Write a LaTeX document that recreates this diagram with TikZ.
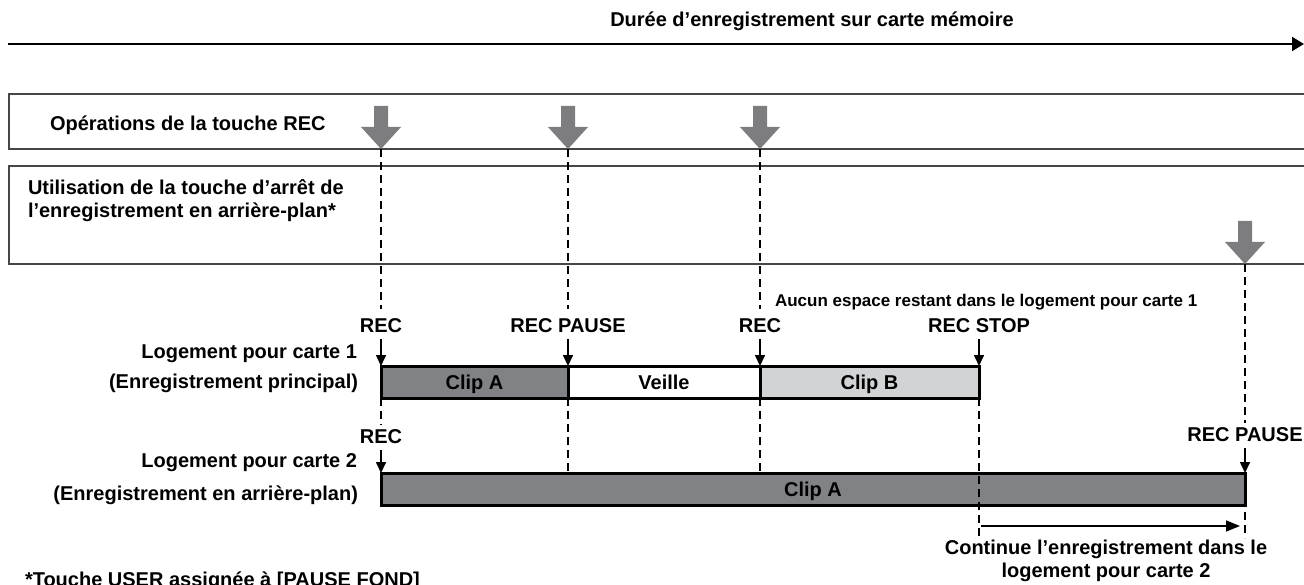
\documentclass[tikz,border=0pt]{standalone}
\usepackage{fontspec}
\setmainfont{Liberation Sans}
\usetikzlibrary{arrows.meta}
\definecolor{clipdark}{RGB}{128,130,133}
\definecolor{cliplight}{RGB}{209,211,212}
\definecolor{arrowgray}{RGB}{125,125,128}
\definecolor{framegray}{RGB}{70,70,70}
\begin{document}
\begin{tikzpicture}[x=1pt,y=-1pt,
  lbl/.style={font=\bfseries\fontsize{20}{23}\selectfont, inner sep=2pt, outer sep=0pt},
  smalllbl/.style={font=\bfseries\fontsize{17}{19}\selectfont, inner sep=0pt, outer sep=0pt},
  frame/.style={draw=framegray, line width=1.8pt},
  clipbox/.style={draw=black, line width=3pt, minimum height=32pt, inner sep=0pt, outer sep=0pt, text height=14.3pt, text depth=0pt, font=\bfseries\fontsize{20}{23}\selectfont},
  dashline/.style={draw=black, line width=2.2pt, dash pattern=on 8pt off 5pt},
  downarrow/.style={draw=black, line width=1.6pt, -{Triangle[length=11pt,width=10pt]}},
  harrow/.style={draw=black, line width=1.6pt, -{Triangle[length=14pt,width=11pt]}},
  garrow/.pic={\fill[arrowgray] (-7,-43)--(7,-43)--(7,-22)--(20,-22)--(0,0)--(-20,-22)--(-7,-22)--cycle;}
]
\useasboundingbox (0,0) rectangle (1304,585);

% title and time axis
\node[lbl] (title) at (812,21) {Durée d’enregistrement sur carte mémoire};
\coordinate (t0) at (8,44);
\coordinate (t1) at (1304,44);
\draw[line width=2pt, -{Triangle[length=12pt,width=14pt]}] (t0) -- (t1);

% frames
\draw[frame] (9,94) rectangle (1312,149);
\draw[frame] (9,166) rectangle (1312,264);
\node[lbl, anchor=west] (op) at (48,125) {Opérations de la touche REC};
\node[lbl, anchor=west, align=left] (bg) at (26,201) {Utilisation de la touche d’arrêt de\\l’enregistrement en arrière-plan*};

% gray key arrows
\coordinate (k1) at (381,149);
\coordinate (k2) at (568,149);
\coordinate (k3) at (760,149);
\coordinate (k4) at (1245,264);
\pic at (k1) {garrow};
\pic at (k2) {garrow};
\pic at (k3) {garrow};
\pic at (k4) {garrow};

% card 1 labels
\node[lbl] (r1) at (381,326) {REC};
\node[lbl] (p1) at (568,326) {REC PAUSE};
\node[lbl] (r2) at (760,326) {REC};
\node[lbl] (st) at (979,326) {REC STOP};
\node[smalllbl, anchor=west] (aucun) at (775,302) {Aucun espace restant dans le logement pour carte 1};

% card 1 boxes
\node[clipbox, fill=clipdark, minimum width=187pt] (clipA) at (474.5,382) {Clip A};
\node[clipbox, fill=white, minimum width=192pt] (veille) at (664,382) {Veille};
\node[clipbox, fill=cliplight, minimum width=219pt] (clipB) at (869.5,382) {Clip B};

% card 2 box
\node[clipbox, fill=clipdark, minimum width=864pt] (card2) at (813,489) {Clip A};

% left labels
\node[lbl, anchor=east] (l1a) at (359,354) {Logement pour carte 1};
\node[lbl, anchor=east] (l1b) at (360,383) {(Enregistrement principal)};
\node[lbl, anchor=east] (l2a) at (359,463) {Logement pour carte 2};
\node[lbl, anchor=east] (l2b) at (360,495) {(Enregistrement en arrière-plan)};

% card 2 labels
\node[lbl] (r3) at (381,437) {REC};
\node[lbl] (p2) at (1245,435) {REC PAUSE};

% dashed guides and arrows
\draw[dashline, shorten >=8pt] (k1) -- (r1.north);
\draw[downarrow, shorten <=4pt] (r1.south) -- (clipA.north west);
\draw[dashline, shorten >=3pt] (clipA.south west) -- (r3.north);
\draw[downarrow, shorten <=4pt] (r3.south) -- (card2.north west);

\draw[dashline, shorten >=8pt] (k2) -- (p1.north);
\draw[downarrow, shorten <=4pt] (p1.south) -- (veille.north west);
\draw[dashline] (veille.south west) -- (veille.south west |- card2.north);

\draw[dashline, shorten >=8pt] (k3) -- (r2.north);
\draw[downarrow, shorten <=4pt] (r2.south) -- (clipB.north west);
\draw[dashline] (clipB.south west) -- (clipB.south west |- card2.north);

\coordinate (e3) at (979,538);
\draw[downarrow, shorten <=4pt] (st.south) -- (clipB.north east);
\draw[dashline] (clipB.south east) -- (e3);

\coordinate (e4) at (1245,538);
\draw[dashline, shorten >=3pt] (k4) -- (p2.north);
\draw[downarrow, shorten <=4pt] (p2.south) -- (card2.north east);
\draw[dashline] (card2.north east) -- (e4);

% continuation arrow
\coordinate (h0) at (981,526);
\coordinate (h1) at (1240,526);
\draw[harrow] (h0) -- (h1);
\node[lbl, align=center] (cont) at (1106,561) {Continue l’enregistrement dans le\\logement pour carte 2};

% footnote
\node[lbl, anchor=west] (fn) at (23,581) {*Touche USER assignée à [PAUSE FOND]};
\end{tikzpicture}
\end{document}
